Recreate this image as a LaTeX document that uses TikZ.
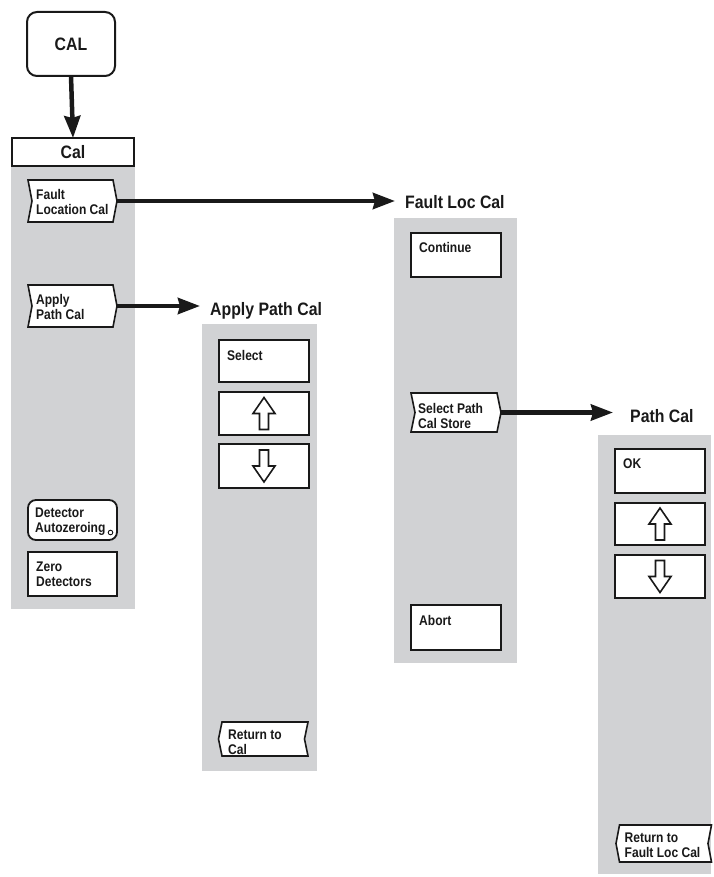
\documentclass[tikz,border=0pt]{standalone}
\usepackage{fontspec}
\setmainfont{Liberation Sans}
\newfontfamily\condfont{Liberation Sans}[FakeStretch=0.86]
\newfontfamily\hdrfont{Liberation Sans}[FakeStretch=0.88]
\usetikzlibrary{arrows.meta,calc}
\definecolor{panelgray}{RGB}{209,210,212}
\definecolor{ink}{RGB}{25,25,25}
\newcommand\keyright[1]{\draw[keyline] (#1.north west) -- ($(#1.west)+(4,0)$) -- (#1.south west) -- (#1.south east) -- ($(#1.east)+(4,0)$) -- (#1.north east) -- cycle;}
\newcommand\keyleft[1]{\draw[keyline] (#1.north west) -- ($(#1.west)+(-3.5,0)$) -- (#1.south west) -- (#1.south east) -- ($(#1.east)+(-3.5,0)$) -- (#1.north east) -- cycle;}
\newcommand\upglyph[1]{\draw[glyph] ($(#1)+(0,-16)$) -- ($(#1)+(11,0)$) -- ($(#1)+(4.5,0)$) -- ($(#1)+(4.5,16)$) -- ($(#1)+(-4.5,16)$) -- ($(#1)+(-4.5,0)$) -- ($(#1)+(-11,0)$) -- cycle;}
\newcommand\downglyph[1]{\draw[glyph] ($(#1)+(0,16)$) -- ($(#1)+(11,0)$) -- ($(#1)+(4.5,0)$) -- ($(#1)+(4.5,-16)$) -- ($(#1)+(-4.5,-16)$) -- ($(#1)+(-4.5,0)$) -- ($(#1)+(-11,0)$) -- cycle;}
\begin{document}
\begin{tikzpicture}[x=1pt,y=-1pt,
  btnbox/.style={draw=ink, line width=1.8pt, fill=white, rectangle, inner sep=0pt, outer sep=0pt},
  keybox/.style={draw=none, fill=none, rectangle, inner sep=0pt, outer sep=0pt},
  keyline/.style={draw=ink, line width=1.6pt, fill=white, line join=miter},
  glyph/.style={draw=ink, line width=1.6pt, fill=white, line join=miter},
  btntext/.style={font=\condfont\bfseries\fontsize{14}{15}\selectfont, inner sep=0pt, anchor=north west, align=left, text=ink},
  hdrtext/.style={font=\hdrfont\bfseries\fontsize{18}{20}\selectfont, inner sep=0pt, text=ink},
  arr/.style={draw=ink, line width=4.5pt, -{Stealth[length=22pt,width=16pt,inset=2pt]}},
]
\useasboundingbox (0,0) rectangle (713,877);

% grey menu panels
\fill[panelgray] (11,166) rectangle (135,609);
\fill[panelgray] (202,324) rectangle (317,771);
\fill[panelgray] (394,218) rectangle (517,663);
\fill[panelgray] (598,435) rectangle (711,874);

% CAL key and Cal menu
\node[btnbox, line width=2pt, rounded corners=10pt, minimum width=88pt, minimum height=64pt, hdrtext] (CAL) at (71,44) {CAL};
\node[btnbox, line width=2.2pt, minimum width=122pt, minimum height=28pt, hdrtext] (calhdr) at (73,152) {Cal};
\draw[arr] (CAL.south) -- (calhdr.north);

\node[keybox, minimum width=85pt, minimum height=42pt] (flkey) at (70.5,201) {};
\keyright{flkey}
\node[btntext] (flkey-t) at ($(flkey.north west)+(8,9.5)$) {Fault\\Location Cal};

\node[keybox, minimum width=85pt, minimum height=42pt] (apkey) at (70.5,306) {};
\keyright{apkey}
\node[btntext] (apkey-t) at ($(apkey.north west)+(8,9.5)$) {Apply\\Path Cal};

\node[btnbox, rounded corners=8pt, minimum width=89pt, minimum height=40pt] (det) at (72.5,520) {};
\node[btntext] (det-t) at ($(det.north west)+(7,7.5)$) {Detector\\Autozeroing};
\draw[ink, line width=0.9pt] ($(det.south east)+(-6.5,-7.5)$) circle (2.3);

\node[btnbox, minimum width=89pt, minimum height=44pt] (zero) at (72.5,574) {};
\node[btntext] (zero-t) at ($(zero.north west)+(8,9.5)$) {Zero\\Detectors};

% headers
\node[hdrtext, anchor=base west] (flc) at (405,209) {Fault Loc Cal};
\node[hdrtext, anchor=base west] (apc) at (210,315) {Apply Path Cal};
\node[hdrtext, anchor=base west] (pc) at (630,422) {Path Cal};

\draw[arr, shorten >=10pt] ($(flkey.east)+(4,0)$) -- (flkey.east -| flc.west);
\draw[arr, shorten >=10pt] ($(apkey.east)+(4,0)$) -- (apkey.east -| apc.west);

% Apply Path Cal menu
\node[btnbox, minimum width=90pt, minimum height=42pt] (sel) at (264,361) {};
\node[btntext] (sel-t) at ($(sel.north west)+(8,10)$) {Select};
\node[btnbox, minimum width=90pt, minimum height=43pt] (up1) at (264,413.5) {};
\upglyph{up1.center}
\node[btnbox, minimum width=90pt, minimum height=44pt] (dn1) at (264,466) {};
\downglyph{dn1.center}
\node[keybox, minimum width=86pt, minimum height=34pt] (retcal) at (265,739) {};
\keyleft{retcal}
\node[btntext] (retcal-t) at ($(retcal.north west)+(6,8)$) {Return to\\Cal};

% Fault Loc Cal menu
\node[btnbox, minimum width=90pt, minimum height=44pt] (cont) at (456,255) {};
\node[btntext] (cont-t) at ($(cont.north west)+(8,9.5)$) {Continue};
\node[keybox, minimum width=86pt, minimum height=39pt] (spkey) at (454,412.5) {};
\keyright{spkey}
\node[btntext] (spkey-t) at ($(spkey.north west)+(7,10)$) {Select Path\\Cal Store};
\node[btnbox, minimum width=90pt, minimum height=45pt] (abort) at (456,627.5) {};
\node[btntext] (abort-t) at ($(abort.north west)+(8,10)$) {Abort};
\draw[arr, shorten >=17pt] ($(spkey.east)+(4,0)$) -- (spkey.east -| pc.west);

% Path Cal menu
\node[btnbox, minimum width=90pt, minimum height=44pt] (ok) at (660,471) {};
\node[btntext] (ok-t) at ($(ok.north west)+(8,10)$) {OK};
\node[btnbox, minimum width=90pt, minimum height=42pt] (up2) at (660,524) {};
\upglyph{up2.center}
\node[btnbox, minimum width=90pt, minimum height=43pt] (dn2) at (660,576.5) {};
\downglyph{dn2.center}
\node[keybox, minimum width=92pt, minimum height=37pt] (retflc) at (665.5,843.5) {};
\keyleft{retflc}
\node[btntext] (retflc-t) at ($(retflc.north west)+(5,8)$) {Return to\\Fault Loc Cal};
\end{tikzpicture}
\end{document}
